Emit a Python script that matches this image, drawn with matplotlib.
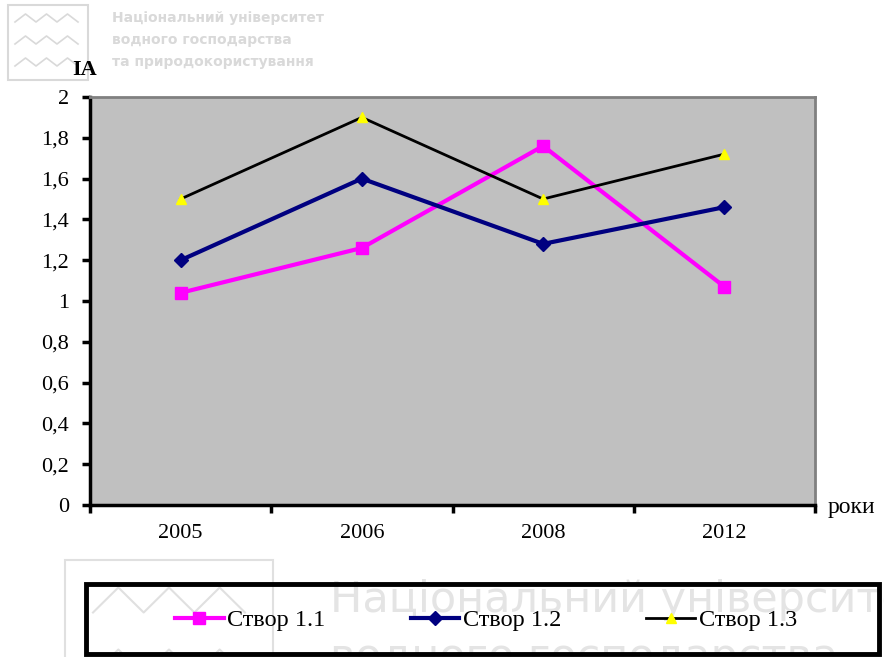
import matplotlib.pyplot as plt
from matplotlib.patches import Rectangle
from matplotlib.lines import Line2D
from matplotlib.ticker import FuncFormatter

years = ["2005", "2006", "2008", "2012"]
stvor_11 = [1.04, 1.26, 1.76, 1.07]
stvor_12 = [1.20, 1.60, 1.28, 1.46]
stvor_13 = [1.50, 1.90, 1.50, 1.72]
series_names = ["Створ 1.1", "Створ 1.2", "Створ 1.3"]

W, H = 884, 657
fig = plt.figure(figsize=(W / 100, H / 100), dpi=100)
serif = ["Liberation Serif", "DejaVu Serif"]


def px(x, y):
    # pixel position from top-left -> figure fraction
    return x / W, 1 - y / H


def zigzag(x0, x1, y, amp, n, color, lw):
    xs = [x0 + (x1 - x0) * i / n for i in range(n + 1)]
    ys = [y + (amp if i % 2 == 0 else -amp) / 2 for i in range(n + 1)]
    fx = [v / W for v in xs]
    fy = [1 - v / H for v in ys]
    fig.add_artist(Line2D(fx, fy, color=color, lw=lw, transform=fig.transFigure, zorder=0))


# faint watermark (university logo)
wm = "#d9d9d9"
fig.patches.append(Rectangle(px(8, 80), 80 / W, 75 / H, transform=fig.transFigure,
                             fill=False, edgecolor=wm, lw=1.5))
for yy in [18, 40, 62]:
    zigzag(15, 78, yy, 8, 6, wm, 1.2)
for i, t in enumerate(["Національний університет", "водного господарства", "та природокористування"]):
    fig.text(*px(112, 18 + 22 * i), t, color=wm, fontsize=10, fontweight="bold",
             family="DejaVu Sans", va="center")
fig.patches.append(Rectangle(px(65, 700), 208 / W, 140 / H, transform=fig.transFigure,
                             fill=False, edgecolor="#e0e0e0", lw=1.5))
zigzag(93, 245, 600, 25, 6, "#e0e0e0", 1.5)
zigzag(93, 245, 662, 25, 6, "#e0e0e0", 1.5)
fig.text(*px(330, 600), "Національний університет", color="#e4e4e4", fontsize=31,
         family="DejaVu Sans", va="center")
fig.text(*px(330, 657), "водного господарства", color="#e4e4e4", fontsize=31,
         family="DejaVu Sans", va="center")

ax = fig.add_axes([90 / W, 1 - 505 / H, 725 / W, 408 / H])
ax.set_facecolor("#c0c0c0")
x = range(len(years))

h1, = ax.plot(x, stvor_11, color="#ff00ff", lw=3, marker="s", ms=8, mec="#ff00ff", zorder=3)
h2, = ax.plot(x, stvor_12, color="#000080", lw=3, marker="D", ms=7, mec="#000080", zorder=3)
h3, = ax.plot(x, stvor_13, color="black", lw=2, marker="^", ms=7, mfc="#ffff00", mec="#ffff00", zorder=3)

ax.set_xlim(-0.5, len(years) - 0.5)
ax.set_ylim(0, 2)
ax.set_yticks([i * 0.2 for i in range(11)])
ax.yaxis.set_major_formatter(FuncFormatter(lambda v, p: f"{v:.1f}".replace(".", ",").replace(",0", "")))
ax.set_xticks([i - 0.5 for i in range(len(years) + 1)])
ax.set_xticklabels([])
ax.set_xticks(list(x), minor=True)
ax.set_xticklabels(years, minor=True, fontsize=16, family=serif)
ax.tick_params(axis="x", which="minor", length=0, pad=14)
ax.tick_params(axis="x", which="major", length=6, width=2.5, direction="out")
ax.tick_params(axis="y", length=6, width=2.5, direction="out", labelsize=16, pad=9)
for lab in ax.get_yticklabels():
    lab.set_family(serif)

for s in ["left", "bottom"]:
    ax.spines[s].set_linewidth(2.5)
    ax.spines[s].set_color("black")
for s in ["top", "right"]:
    ax.spines[s].set_linewidth(2)
    ax.spines[s].set_color("#808080")

fig.text(*px(85, 70), "IA", fontsize=16, fontweight="bold", family=serif, va="center", ha="center")
fig.text(*px(828, 508), "роки", fontsize=17, family=serif, va="center", ha="left")

# legend box
fig.patches.append(Rectangle(px(86, 654), 793 / W, 70 / H, transform=fig.transFigure,
                             fill=False, edgecolor="black", lw=3.5, zorder=5))
leg = fig.legend([h1, h2, h3], series_names, loc="center", bbox_to_anchor=px(486, 620), ncol=3,
                 frameon=False, prop={"family": serif, "size": 17.5}, handlelength=2.0,
                 handletextpad=0.15, columnspacing=3.5)

fig.savefig("out.png", dpi=100)
